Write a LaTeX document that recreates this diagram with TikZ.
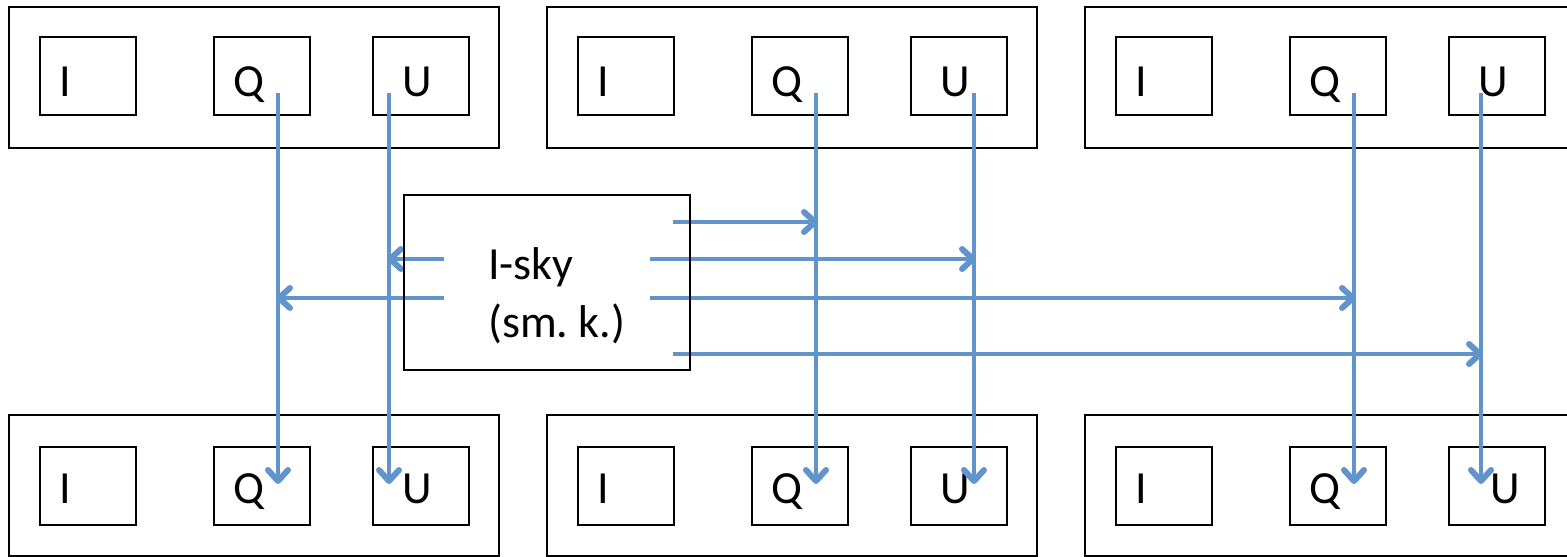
\documentclass[tikz,border=0pt]{standalone}
\usepackage{fontspec}
\setmainfont{Carlito}
\usetikzlibrary{arrows.meta}
\definecolor{flowblue}{RGB}{98,148,204}
\frenchspacing
\tikzset{
  outerbox/.style={draw=black, line width=2pt, minimum width=490pt, minimum height=141pt, inner sep=0pt},
  innerbox/.style={draw=black, line width=2pt, minimum width=96pt, minimum height=78pt, inner sep=0pt},
  skybox/.style={draw=black, line width=2pt, minimum width=286pt, minimum height=175pt, inner sep=0pt},
  lbl/.style={anchor=base west, inner sep=0pt, font=\fontsize{46}{56}\selectfont},
  flow/.style={draw=flowblue, line width=3.2pt,
    -{Straight Barb[length=11pt, width=20pt, line width=6pt 0, line cap=round, line join=round]}},
}
\begin{document}
\begin{tikzpicture}[x=1pt, y=-1pt]
\useasboundingbox (0,0) rectangle (1567,557);
\clip (0,0) rectangle (1567,557);

% outer frames: top row and bottom row
\foreach \n/\l in {1/9, 2/547, 3/1085} {
  \node[outerbox] (top\n) at (\l+245, 77) {};
  \node[outerbox] (bot\n) at (\l+245, 485.5) {};
  % I, Q, U boxes in the top frame
  \node[innerbox] (tI\n) at (\l+79, 76) {};
  \node[innerbox] (tQ\n) at (\l+253, 76) {};
  \node[innerbox] (tU\n) at (\l+412, 76) {};
  % I, Q, U boxes in the bottom frame
  \node[innerbox] (bI\n) at (\l+79, 485.5) {};
  \node[innerbox] (bQ\n) at (\l+253, 485.5) {};
  \node[innerbox] (bU\n) at (\l+412, 485.5) {};
  % letters
  \node[lbl] (tIl\n) at (\l+50, 96) {I};
  \node[lbl] (tQl\n) at (\l+224, 96) {Q};
  \node[lbl] (bIl\n) at (\l+50, 503) {I};
  \node[lbl] (bQl\n) at (\l+224, 503) {Q};
}
\node[lbl] (tUl1) at (9+393, 96) {U};
\node[lbl] (tUl2) at (547+393, 96) {U};
\node[lbl] (tUl3) at (1085+393, 96) {U};
\node[lbl] (bUl1) at (9+393, 503) {U};
\node[lbl] (bUl2) at (547+393, 503) {U};
\node[lbl] (bUl3) at (1085+405, 503) {U};

% start and end points of the vertical transfers
\coordinate (qs1) at (278,93);  \coordinate (qe1) at (278,484);
\coordinate (us1) at (389,93);  \coordinate (ue1) at (389,484);
\coordinate (qs2) at (816,93);  \coordinate (qe2) at (816,484);
\coordinate (us2) at (974,93);  \coordinate (ue2) at (974,484);
\coordinate (qs3) at (1354,93); \coordinate (qe3) at (1354,484);
\coordinate (us3) at (1481,93); \coordinate (ue3) at (1481,484);

% sky box and its outgoing connectors
\coordinate (skyc) at (547,282.5);
\coordinate (r1) at (673,222);
\coordinate (r2) at (650,259);
\coordinate (r3) at (650,298);
\coordinate (r4) at (673,354);
\coordinate (l1) at (444,259);
\coordinate (l2) at (444,298);

\draw[flow] (qs1) -- (qe1);
\draw[flow] (us1) -- (ue1);
\draw[flow] (qs2) -- (qe2);
\draw[flow] (us2) -- (ue2);
\draw[flow] (qs3) -- (qe3);
\draw[flow] (us3) -- (ue3);

\draw[flow] (r1) -- ([xshift=2pt]r1 -| qs2);
\draw[flow] (r2) -- ([xshift=2pt]r2 -| us2);
\draw[flow] (r3) -- ([xshift=2pt]r3 -| qs3);
\draw[flow] (r4) -- ([xshift=2pt]r4 -| us3);
\draw[flow] (l1) -- ([xshift=-2pt]l1 -| us1);
\draw[flow] (l2) -- ([xshift=-2pt]l2 -| qs1);

\node[skybox] (sky) at (skyc) {};
\node[lbl] (skyt1) at (488,279) {I-sky};
\node[lbl] (skyt2) at (488,337) {(sm. k.)};
\end{tikzpicture}
\end{document}
